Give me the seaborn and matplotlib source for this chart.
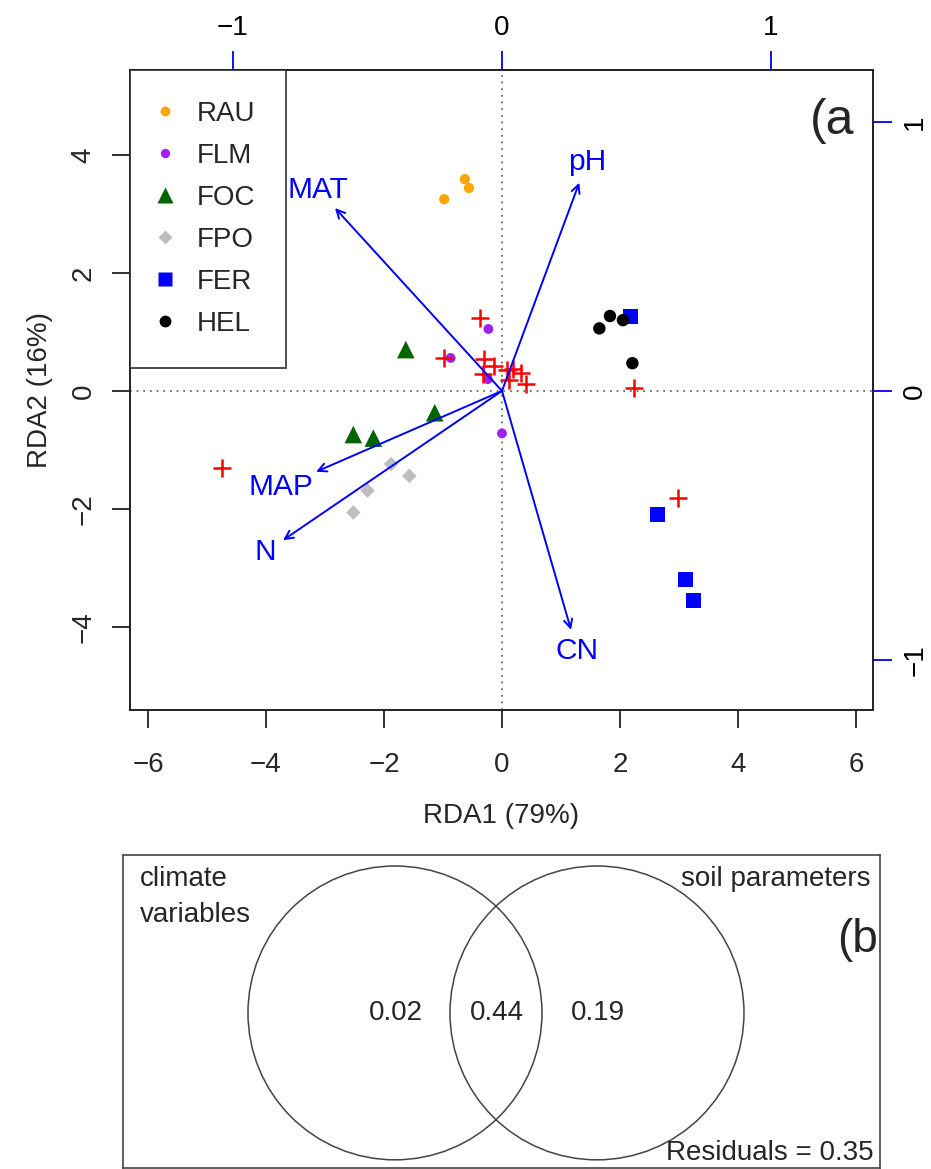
import matplotlib
matplotlib.use("Agg")
import matplotlib.pyplot as plt
from matplotlib.patches import Circle
from matplotlib.lines import Line2D
import seaborn as sns
import pandas as pd

# sample scores (RDA1, RDA2) by group
groups = ["RAU", "FLM", "FOC", "FPO", "FER", "HEL"]
rau_x = [-0.98, -0.63, -0.56]
rau_y = [3.25, 3.59, 3.44]
flm_x = [-0.23, -0.87, -0.24, 0.0]
flm_y = [1.05, 0.56, 0.20, -0.72]
foc_x = [-1.63, -1.14, -2.52, -2.18]
foc_y = [0.70, -0.37, -0.74, -0.80]
fpo_x = [-1.88, -1.57, -2.28, -2.52]
fpo_y = [-1.24, -1.44, -1.69, -2.06]
fer_x = [2.18, 2.63, 3.11, 3.25]
fer_y = [1.26, -2.10, -3.19, -3.55]
hel_x = [1.83, 1.65, 2.05, 2.21]
hel_y = [1.27, 1.06, 1.20, 0.47]

# species scores (red crosses)
sp_x = [-0.37, -0.98, -0.31, -0.14, -0.33, 0.09, 0.19, 0.32, 0.12, 0.41, -4.75, 2.24, 2.98]
sp_y = [1.24, 0.55, 0.54, 0.42, 0.28, 0.36, 0.37, 0.31, 0.19, 0.12, -1.31, 0.05, -1.82]

# environmental arrows
env_names = ["MAT", "pH", "MAP", "N", "CN"]
env_x = [-2.83, 1.31, -3.15, -3.71, 1.17]
env_y = [3.10, 3.53, -1.37, -2.53, -4.05]
lab_scale = [1.1, 1.1, 1.19, 1.08, 1.09]

# variation partitioning
venn_labels = ["climate\nvariables", "soil parameters"]
venn_values = [0.02, 0.44, 0.19]
residuals = 0.35

bi_mult = 4.56  # scaling of the blue axes
FS = 20

sns.set_style("white")
plt.rcParams["font.family"] = ["Liberation Sans", "DejaVu Sans"]

fig = plt.figure(figsize=(9.31, 11.69), dpi=100)
ax = fig.add_axes([0.1396, 0.3926, 0.7981, 0.5475])

ax.axhline(0, color="#555555", ls=(0, (1, 3)), lw=1.2, zorder=1)
ax.axvline(0, color="#555555", ls=(0, (1, 3)), lw=1.2, zorder=1)

styles = {
    "RAU": dict(x=rau_x, y=rau_y, color="#FFA500", marker="o", s=55),
    "FLM": dict(x=flm_x, y=flm_y, color="#A020F0", marker="o", s=50),
    "FOC": dict(x=foc_x, y=foc_y, color="#006400", marker="^", s=160),
    "FPO": dict(x=fpo_x, y=fpo_y, color="#BEBEBE", marker="D", s=55),
    "FER": dict(x=fer_x, y=fer_y, color="#0000FF", marker="s", s=115),
    "HEL": dict(x=hel_x, y=hel_y, color="#000000", marker="o", s=80),
}

for g in groups:
    st = styles[g]
    df = pd.DataFrame({"x": st["x"], "y": st["y"]})
    sns.scatterplot(data=df, x="x", y="y", color=st["color"], marker=st["marker"],
                    s=st["s"], edgecolor="none", ax=ax, zorder=3)

sp = pd.DataFrame({"x": sp_x, "y": sp_y})
sns.scatterplot(data=sp, x="x", y="y", color="#FF0000", marker="+", s=150,
                linewidth=1.8, ax=ax, zorder=4)

for name, ex, ey, ls in zip(env_names, env_x, env_y, lab_scale):
    ax.annotate("", xy=(ex, ey), xytext=(0, 0),
                arrowprops=dict(arrowstyle="->,head_length=0.6,head_width=0.3",
                                color="#0000FF", lw=1.4, shrinkA=0, shrinkB=0),
                zorder=5)
    ax.text(ex * ls, ey * ls, name, color="#0000FF", fontsize=21.5,
            ha="center", va="center", zorder=5)

ax.set_xlim(-6.305, 6.288)
ax.set_ylim(-5.41, 5.44)
ax.set_xticks([-6, -4, -2, 0, 2, 4, 6])
ax.set_yticks([-4, -2, 0, 2, 4])
ax.set_xticklabels(["\u22126", "\u22124", "\u22122", "0", "2", "4", "6"])
ax.set_yticklabels(["\u22124", "\u22122", "0", "2", "4"], rotation=90, va="center")
ax.tick_params(axis="x", direction="out", length=13, width=1.3, labelsize=FS,
               color="#222222", bottom=True, pad=17)
ax.tick_params(axis="y", direction="out", length=13, width=1.3, labelsize=FS,
               color="#222222", left=True, pad=11)
ax.set_xlabel("RDA1 (79%)", fontsize=FS, labelpad=18)
ax.set_ylabel("RDA2 (16%)", fontsize=FS, labelpad=13)
for sp_ in ax.spines.values():
    sp_.set_color("#222222")
    sp_.set_linewidth(1.4)

ax.text(5.98, 4.58, "(a", fontsize=36, ha="right", va="center", clip_on=True)

# blue secondary axes (biplot scaling)
top = ax.secondary_xaxis("top", functions=(lambda v: v / bi_mult, lambda v: v * bi_mult))
top.set_xticks([-1, 0, 1])
top.set_xticklabels(["\u22121", "0", "1"])
top.tick_params(direction="out", length=14, width=1.3, color="#0000FF",
                labelsize=FS, labelcolor="black", pad=7)
top.spines["top"].set_color("#0000FF")
top.spines["top"].set_linewidth(1.4)
top.spines["top"].set_bounds(-1, 1)

right = ax.secondary_yaxis("right", functions=(lambda v: v / bi_mult, lambda v: v * bi_mult))
right.set_yticks([-1, 0, 1])
right.set_yticklabels(["\u22121", "0", "1"], rotation=90, va="center")
right.tick_params(direction="out", length=14, width=1.3, color="#0000FF",
                  labelsize=FS, labelcolor="black", pad=7)
right.spines["right"].set_color("#0000FF")
right.spines["right"].set_linewidth(1.4)
right.spines["right"].set_bounds(-1, 1)

handles = [Line2D([], [], ls="", marker=styles[g]["marker"], color=styles[g]["color"],
                  markersize=(styles[g]["s"] ** 0.5) * 0.95, markeredgecolor="none")
           for g in groups]
leg = ax.legend(handles, groups, loc="upper left", bbox_to_anchor=(0, 1),
                borderaxespad=0, fontsize=FS, frameon=True, fancybox=False,
                labelspacing=0.58, handletextpad=1.0, borderpad=1.1,
                handlelength=0.3)
leg.get_frame().set_edgecolor("#222222")
leg.get_frame().set_linewidth(1.4)
leg.set_zorder(20)

# (b) variation partitioning
bx = fig.add_axes([0.1321, 0.001, 0.8131, 0.2676])
bx.set_xlim(123, 880)
bx.set_ylim(1168, 855)
bx.set_xticks([])
bx.set_yticks([])
for sp_ in bx.spines.values():
    sp_.set_color("#444444")
    sp_.set_linewidth(1.2)
bx.add_patch(Circle((395, 1013), 147, fill=False, ec="#444444", lw=1.1))
bx.add_patch(Circle((597, 1013), 147, fill=False, ec="#444444", lw=1.1))
bx.text(140, 866, venn_labels[0], fontsize=FS, ha="left", va="top", linespacing=1.5)
bx.text(871, 879, venn_labels[1], fontsize=FS, ha="right", va="center")
for xv, val in zip([396, 497, 598], venn_values):
    bx.text(xv, 1013, f"{val:.2f}", fontsize=FS, ha="center", va="center")
bx.text(874, 1153, f"Residuals = {residuals:.2f}", fontsize=FS, ha="right", va="center")
bx.text(878, 940, "(b", fontsize=33, ha="right", va="center")

fig.savefig("out.png", dpi=100)
